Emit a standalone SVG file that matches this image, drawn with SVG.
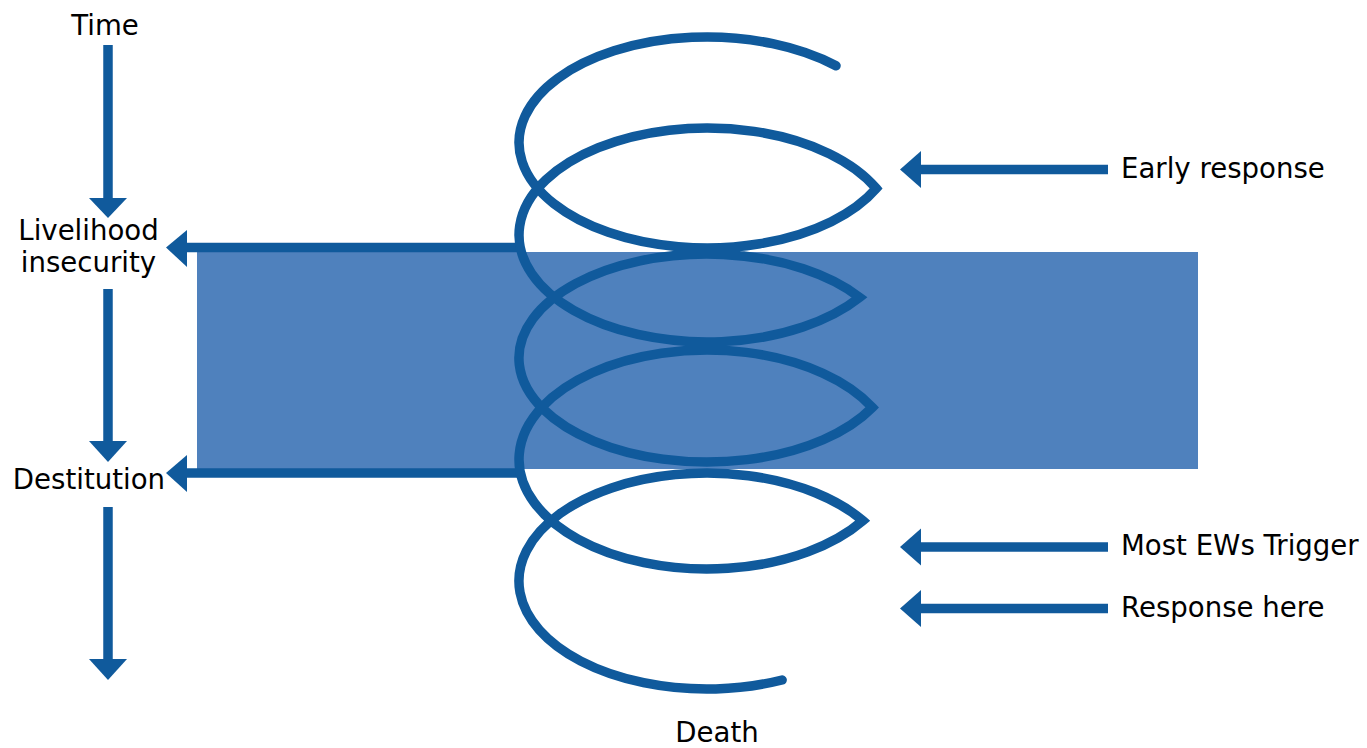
<svg xmlns="http://www.w3.org/2000/svg" width="1367" height="748" viewBox="0 0 1367 748">
<style>
.lbl{font-family:"DejaVu Sans","Verdana",sans-serif;font-size:27.6px;fill:#000}
.shaft{stroke:#105a9c;stroke-width:9.5;fill:none}
.head{fill:#105a9c}
.spiral{stroke:#105a9c;stroke-width:9.5;fill:none;stroke-linecap:round;stroke-linejoin:miter;stroke-miterlimit:6}
</style>
<rect width="1367" height="748" fill="#fff"/>
<g id="band"><rect x="197" y="252" width="1001" height="217" fill="#4f81bd"/></g>
<g id="connectors">
<line class="shaft" x1="108" y1="45" x2="108" y2="199"/>
<polygon class="head" points="89,198 127,198 108,218"/>
<line class="shaft" x1="108" y1="289" x2="108" y2="442"/>
<polygon class="head" points="89,441 127,441 108,462"/>
<line class="shaft" x1="108" y1="507" x2="108" y2="660"/>
<polygon class="head" points="89,659 127,659 108,680"/>
<line class="shaft" x1="186" y1="247.5" x2="519" y2="247.5"/>
<polygon class="head" points="187,230 187,267 166,247.5"/>
<line class="shaft" x1="186" y1="473" x2="519" y2="473"/>
<polygon class="head" points="187,455 187,492 166,473"/>
<line class="shaft" x1="920" y1="169.5" x2="1108" y2="169.5"/>
<polygon class="head" points="921,151 921,188 900,169.5"/>
<line class="shaft" x1="920" y1="547" x2="1108" y2="547"/>
<polygon class="head" points="921,528.5 921,565.5 900,547"/>
<line class="shaft" x1="920" y1="608.5" x2="1108" y2="608.5"/>
<polygon class="head" points="921,590 921,627 900,608.5"/>
</g>
<g id="spiral">
<path class="spiral" d="M 836,65.75 A 188 105.5 0 1 0 876.3,188.4 A 188 107 0 1 0 859.7,297.4 A 188 104 0 1 0 872.4,407.4 A 188 109.5 0 1 0 862.9,520.7 A 188 108 0 1 0 782.1,680"/>
</g>
<g id="time"><text class="lbl" x="105" y="35" text-anchor="middle">Time</text></g>
<g id="livelihood"><text class="lbl" x="88.5" y="240" text-anchor="middle">Livelihood</text><text class="lbl" x="88.5" y="272" text-anchor="middle">insecurity</text></g>
<g id="destitution"><text class="lbl" x="89" y="489" text-anchor="middle">Destitution</text></g>
<g id="death"><text class="lbl" x="717" y="742" text-anchor="middle">Death</text></g>
<g id="early"><text class="lbl" x="1121" y="178">Early response</text></g>
<g id="most"><text class="lbl" x="1121" y="555">Most EWs Trigger</text></g>
<g id="resp"><text class="lbl" x="1121" y="617">Response here</text></g>
</svg>
